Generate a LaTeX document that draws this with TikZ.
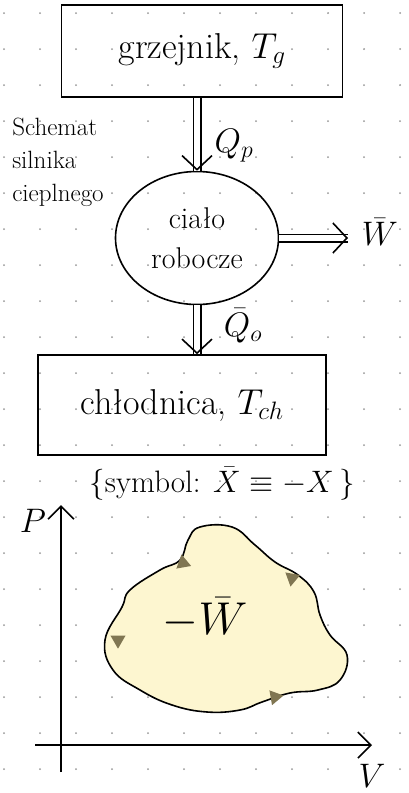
\documentclass[tikz,border=0pt]{standalone}
\usepackage{fix-cm}
\usepackage{amsmath}
\usetikzlibrary{positioning}
\usetikzlibrary{shapes.geometric}
\usetikzlibrary{arrows.meta}
\definecolor{kropka}{RGB}{150, 150, 150}
\definecolor{cykl}{RGB}{253, 246, 208}
\definecolor{oliwka}{RGB}{128, 118, 82}

\begin{document}
\begin{tikzpicture}[x=1pt, y=-1pt, line width=1.6pt,
  pudlo/.style={draw, rectangle, inner sep=0pt},
  duzy/.style={font=\fontsize{36}{40}\selectfont},
  sredni/.style={font=\fontsize{30}{40}\selectfont},
  maly/.style={font=\fontsize{25}{33}\selectfont},
  etykieta/.style={font=\fontsize{34}{38}\selectfont, inner sep=1pt},
  cieplo/.style={double, double distance=6pt, line width=1.5pt},
  grot/.style={-{Straight Barb[length=14pt, width=30pt]}},
  strzalka/.style={-{Straight Barb[length=13pt, width=26pt]}},
  znacznik/.style={isosceles triangle, isosceles triangle apex angle=60, fill=oliwka, inner sep=0pt, minimum size=13pt}]
\useasboundingbox (0,0) rectangle (408,793);
% kropki
\foreach \i in {0,...,11}
  \foreach \j in {0,...,21}
    \fill[kropka] (4+36*\i, 13+36*\j) circle (1pt);
% schemat
\node (grzejnik) [pudlo, duzy, minimum width=281pt, minimum height=92pt] at (202, 51) {grzejnik, $T_g$};
\node (cialo) [ellipse, draw, sredni, align=center, minimum width=163pt, minimum height=133pt, inner sep=0pt] at (197, 238) {ciało\\robocze};
\node (chlodnica) [pudlo, duzy, minimum width=288pt, minimum height=100pt] at (182, 405) {chłodnica, $T_{ch}$};
\node (opis) [maly, align=left] at (58, 162) {Schemat\\silnika\\cieplnego};
\node (praca) [etykieta] at (380, 232) {$\bar{W}$};
\node (symbol) [font=\fontsize{31}{34}\selectfont] at (222, 484) {$\{$symbol: $\bar{X} \equiv -X\,\}$};
\coordinate (wylot) at (348, 238);
\draw [cieplo] (grzejnik.south -| cialo.north) -- (cialo.north);
\draw [grot] ([yshift=1pt]cialo.north) -- (cialo.north);
\node (Qp) [etykieta] at (234, 146) {$Q_p$};
\draw [cieplo] (cialo.east) -- (wylot);
\draw [grot] ([xshift=-1pt]wylot) -- (wylot);
\draw [cieplo] (cialo.south) -- (chlodnica.north -| cialo.south);
\draw [grot] ([yshift=1pt]chlodnica.north -| cialo.south) -- (chlodnica.north -| cialo.south);
\node (Qo) [etykieta] at (243, 326) {$\bar{Q}_o$};
% wykres p-V
\coordinate (O) at (61, 745);
\coordinate (pgora) at (61, 505);
\coordinate (pdol) at (61, 772);
\coordinate (vlewo) at (35, 745);
\coordinate (vprawo) at (372, 745);
\draw [strzalka] (pdol) -- (pgora);
\draw [strzalka] (vlewo) -- (vprawo);
\node (P) [etykieta] at (33, 521) {$P$};
\node (V) [etykieta] at (372, 776) {$V$};
\draw [fill=cykl] plot [smooth cycle, tension=0.7] coordinates {(200, 527) (232, 527) (255, 545) (275, 562) (298, 575) (314, 592) (320, 615) (330, 635) (347, 655) (340, 680) (318, 690) (290, 693) (262, 702) (240, 710) (207, 712) (172, 705) (140, 690) (113, 670) (105, 640) (122, 607) (130, 590) (160, 570) (180, 560) (188, 540)};
\foreach \x/\y/\a in {183/563/220, 118/640/270, 275/697/10, 292/578/140}
  \node [znacznik, rotate=\a] at (\x, \y) {};
\node (minusW) [font=\fontsize{46}{50}\selectfont] at (205, 618) {$-\bar{W}$};
\end{tikzpicture}
\end{document}
